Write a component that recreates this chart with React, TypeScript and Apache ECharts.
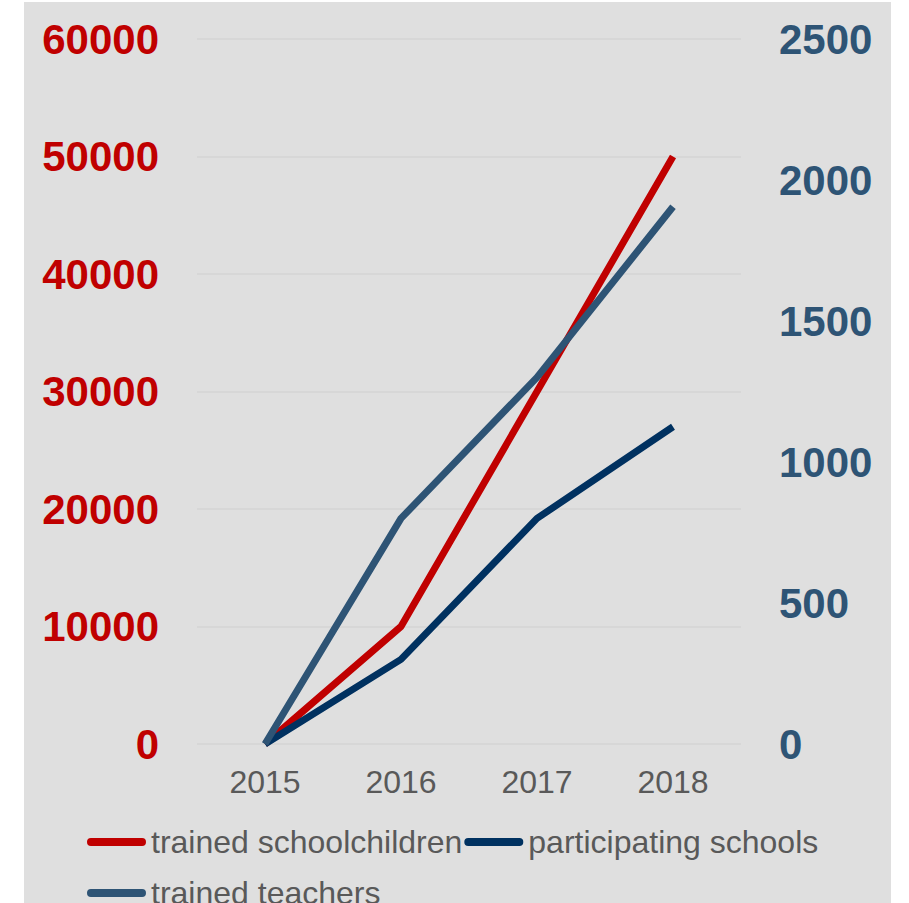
import React, { useEffect, useRef } from "react";
import * as echarts from "echarts";

const years = ["2015", "2016", "2017", "2018"];
const trainedSchoolchildren = [0, 10000, 30000, 50000];
const participatingSchools = [0, 300, 800, 1125];
const trainedTeachers = [0, 800, 1300, 1905];

const RED = "#c00000";
const NAVY = "#003160";
const SLATE = "#2e5475";
const FONT = "Liberation Sans, Arial, sans-serif";

const lineIcon = "path://M4,0 H56 A4,4 0 0 1 56,8 H4 A4,4 0 0 1 4,0 Z";

export default function App() {
  const ref = useRef<HTMLDivElement>(null);
  useEffect(() => {
    if (!ref.current) return;
    const chart = echarts.init(ref.current, null, { renderer: "svg" });
    const legendCommon = {
      left: 87,
      padding: 0,
      orient: "horizontal" as const,
      itemWidth: 59,
      itemHeight: 8,
      itemGap: 2,
      icon: lineIcon,
      textStyle: { color: "#595959", fontSize: 32, fontFamily: FONT },
    };
    const plain = (v: number) => String(v);
    chart.setOption({
      animation: false,
      backgroundColor: "transparent",
      graphic: [
        {
          type: "rect",
          z: -100,
          silent: true,
          shape: { x: 24, y: 2, width: 867, height: 920 },
          style: { fill: "#dfdfdf" },
        },
      ],
      grid: { left: 197, right: 168, top: 39, bottom: 159, containLabel: false },
      legend: [
        { ...legendCommon, top: 826, data: ["trained schoolchildren", "participating schools"] },
        { ...legendCommon, top: 877, data: ["trained teachers"] },
      ],
      xAxis: {
        type: "category",
        data: years,
        boundaryGap: true,
        axisLine: { show: false },
        axisTick: { show: false },
        axisLabel: { color: "#595959", fontSize: 32, fontFamily: FONT, margin: 22 },
      },
      yAxis: [
        {
          type: "value",
          min: 0,
          max: 60000,
          interval: 10000,
          position: "left",
          axisLine: { show: false },
          axisTick: { show: false },
          splitLine: { lineStyle: { color: "#d5d5d5", width: 1.5 } },
          axisLabel: { color: RED, fontSize: 42, fontWeight: "bold", fontFamily: FONT, margin: 38, formatter: plain },
        },
        {
          type: "value",
          min: 0,
          max: 2500,
          interval: 500,
          position: "right",
          axisLine: { show: false },
          axisTick: { show: false },
          splitLine: { show: false },
          axisLabel: { color: SLATE, fontSize: 42, fontWeight: "bold", fontFamily: FONT, margin: 38, formatter: plain },
        },
      ],
      series: [
        {
          name: "trained schoolchildren",
          type: "line",
          yAxisIndex: 0,
          data: trainedSchoolchildren,
          showSymbol: false,
          color: RED,
          lineStyle: { color: RED, width: 7 },
          itemStyle: { color: RED },
        },
        {
          name: "participating schools",
          type: "line",
          yAxisIndex: 1,
          data: participatingSchools,
          showSymbol: false,
          color: NAVY,
          lineStyle: { color: NAVY, width: 7 },
          itemStyle: { color: NAVY },
        },
        {
          name: "trained teachers",
          type: "line",
          yAxisIndex: 1,
          data: trainedTeachers,
          showSymbol: false,
          color: SLATE,
          lineStyle: { color: SLATE, width: 7 },
          itemStyle: { color: SLATE },
        },
      ],
    });
    return () => chart.dispose();
  }, []);
  return (
    <div
      ref={ref}
      style={{ position: "absolute", left: 0, top: 0, width: 909, height: 903, background: "#ffffff" }}
    />
  );
}
